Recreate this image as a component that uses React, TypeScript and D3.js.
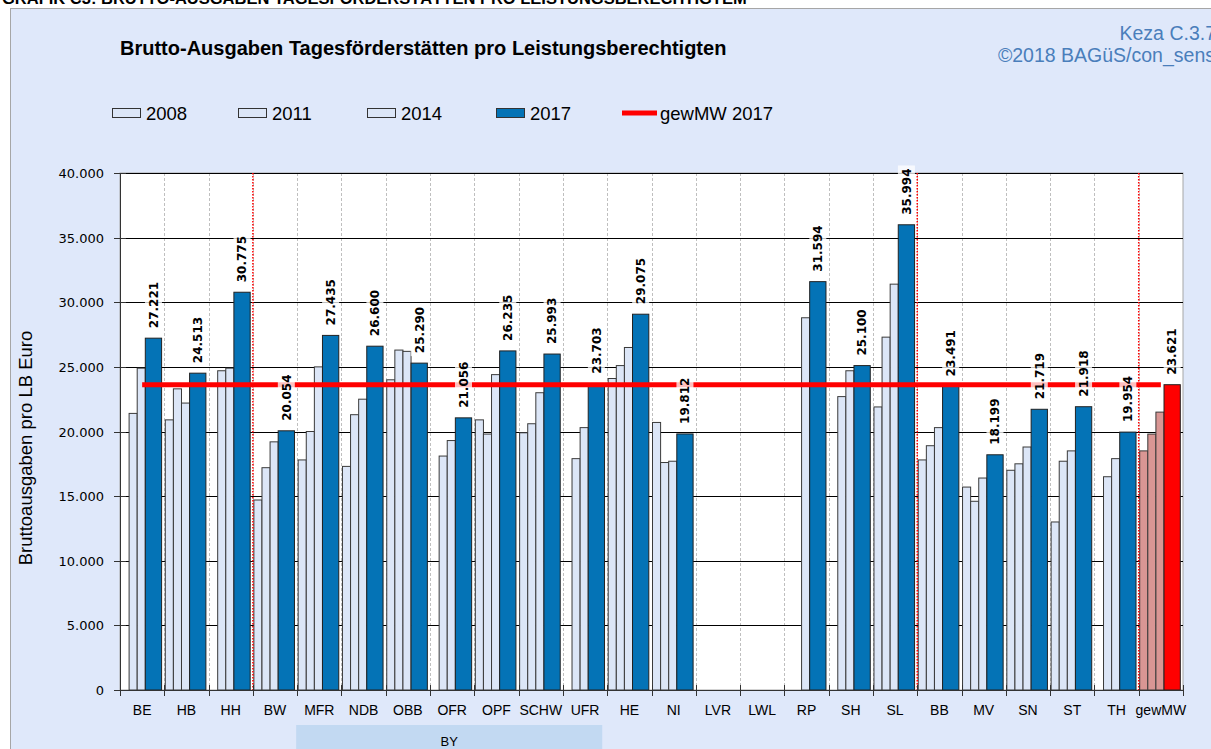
import * as d3 from 'd3';
import {useEffect, useRef} from "react";

// categories (Länder / Bezirke), gewMW = gewichteter Mittelwert
const categories = ["BE","HB","HH","BW","MFR","NDB","OBB","OFR","OPF","SCHW","UFR","HE","NI","LVR","LWL","RP","SH","SL","BB","MV","SN","ST","TH","gewMW"];

const years = ["2008","2011","2014"];
const values2008 = [null,20900,null,14700,17800,17300,24000,null,20900,19900,null,24100,20700,null,null,null,null,21900,17800,15700,17000,13000,null,18500];
const values2011 = [21400,23300,24700,17200,20000,21300,26300,18100,19800,20600,17900,25100,17600,null,null,null,22700,27300,18900,14600,17500,17700,16500,19800];
const values2014 = [24900,22200,24900,19200,25000,22500,26200,19300,24400,23000,20300,26500,17700,null,null,28800,24700,31400,20300,16400,18800,18500,17900,21500];
const values2017 = [27221,24513,30775,20054,27435,26600,25290,21056,26235,25993,23703,29075,19812,null,null,31594,25100,35994,23491,18199,21719,21918,19954,23621];

const gewMW2017 = 23621;
const yTicks = [0,5000,10000,15000,20000,25000,30000,35000,40000];
// red dotted separators after these categories
const separatorsAfter = ["HH","SL","TH"];
const byGroup = ["BW","MFR","NDB","OBB","OFR","OPF","SCHW","UFR"];

const legendItems = ["2008","2011","2014","2017"];

const width = 1211;
const height = 749;

const LIGHT = "#dce6f7";
const DARK = "#0473b6";
const ROSE = "#d99694";
const RED = "#ff0000";

export default function App(){
    const svgRef = useRef(null);

    useEffect(() => {
        const svg = d3.select(svgRef.current);
        svg.selectAll("*").remove();

        const de = d3.formatLocale({decimal: ",", thousands: ".", grouping: [3], currency: ["", "€"]});
        const fmt = de.format(",.0f");

        const x = d3.scaleBand().domain(categories).range([120, 1183]).padding(0);
        const y = d3.scaleLinear().domain([0, 40000]).range([690, 173]);
        const bw = x.bandwidth();
        const sub = d3.scaleBand().domain(years).range([1, 25.3]).padding(0);
        const darkOff = 25.3, darkW = 16.3;

        // page heading, cut at the top
        svg.append("text").attr("x", 2).attr("y", 4)
            .attr("font-family", "Liberation Sans, Arial").attr("font-weight", "bold").attr("font-size", 16.5)
            .attr("fill", "#000")
            .text("GRAFIK C3: BRUTTO-AUSGABEN TAGESFÖRDERSTÄTTEN PRO LEISTUNGSBERECHTIGTEM");

        // chart frame
        svg.append("rect").attr("x", 10.5).attr("y", 8.5).attr("width", 1220).attr("height", 760)
            .attr("fill", "#dfe8fa").attr("stroke", "#a6a6a6");

        svg.append("text").attr("x", 120).attr("y", 55)
            .attr("font-family", "Liberation Sans, Arial").attr("font-weight", "bold").attr("font-size", 20)
            .text("Brutto-Ausgaben Tagesförderstätten pro Leistungsberechtigten");

        const src = svg.append("g").attr("font-family", "Liberation Sans, Arial").attr("font-size", 19.5)
            .attr("fill", "#4a7ebb").attr("text-anchor", "end");
        src.append("text").attr("x", 1216).attr("y", 40).text("Keza C.3.7");
        src.append("text").attr("x", 1215).attr("y", 62).text("©2018 BAGüS/con_sens");

        // legend
        const lg = svg.append("g").attr("font-family", "Liberation Sans, Arial").attr("font-size", 18.5);
        const legendX = [112, 238, 367, 496];
        legendItems.forEach((k, i) => {
            lg.append("rect").attr("x", legendX[i] + 0.5).attr("y", 108.5).attr("width", 28).attr("height", 9)
                .attr("fill", k === "2017" ? DARK : LIGHT).attr("stroke", "#333");
            lg.append("text").attr("x", legendX[i] + 34).attr("y", 120).text(k);
        });
        lg.append("line").attr("x1", 622).attr("x2", 657).attr("y1", 113).attr("y2", 113)
            .attr("stroke", RED).attr("stroke-width", 5);
        lg.append("text").attr("x", 660).attr("y", 120).text("gewMW 2017");

        // plot area
        svg.append("rect").attr("x", 120).attr("y", 173).attr("width", 1063).attr("height", 517)
            .attr("fill", "#fff").attr("stroke", "#a6a6a6");

        // vertical dashed grid at band boundaries
        svg.append("g").selectAll("line")
            .data(categories.slice(1))
            .enter().append("line")
            .attr("x1", d => Math.round(x(d)) + 0.5).attr("x2", d => Math.round(x(d)) + 0.5)
            .attr("y1", 173).attr("y2", 690)
            .attr("stroke", "#bfbfbf").attr("stroke-dasharray", "3,2");

        // horizontal grid
        svg.append("g").selectAll("line")
            .data(yTicks.slice(1))
            .enter().append("line")
            .attr("x1", 120).attr("x2", 1183)
            .attr("y1", d => Math.round(y(d)) + 0.5).attr("y2", d => Math.round(y(d)) + 0.5)
            .attr("stroke", "#000").attr("stroke-width", 1);

        // bars
        const lightSeries = [values2008, values2011, values2014];
        const bars = svg.append("g");
        lightSeries.forEach((vals, si) => {
            bars.selectAll(null)
                .data(categories.map((c, i) => ({c, v: vals[i]})).filter(d => d.v != null))
                .enter().append("rect")
                .attr("x", d => x(d.c) + sub(years[si]))
                .attr("y", d => y(d.v))
                .attr("width", sub.bandwidth())
                .attr("height", d => 690 - y(d.v))
                .attr("fill", d => d.c === "gewMW" ? ROSE : LIGHT)
                .attr("stroke", "#3a3a3a").attr("stroke-width", 1);
        });
        const darkData = categories.map((c, i) => ({c, v: values2017[i]})).filter(d => d.v != null);
        bars.selectAll(null)
            .data(darkData)
            .enter().append("rect")
            .attr("x", d => x(d.c) + darkOff)
            .attr("y", d => y(d.v))
            .attr("width", darkW)
            .attr("height", d => 690 - y(d.v))
            .attr("fill", d => d.c === "gewMW" ? RED : DARK)
            .attr("stroke", "#222").attr("stroke-width", 1);

        // red dotted separators
        svg.append("g").selectAll("line")
            .data(separatorsAfter)
            .enter().append("line")
            .attr("x1", d => x(d) + bw).attr("x2", d => x(d) + bw)
            .attr("y1", 173).attr("y2", 690)
            .attr("stroke", RED).attr("stroke-width", 1.5).attr("stroke-dasharray", "1.5,1.5");

        // gewMW 2017 line
        svg.append("line")
            .attr("x1", x(categories[0]) + bw / 2).attr("x2", x(categories[categories.length - 1]) + bw / 2)
            .attr("y1", y(gewMW2017)).attr("y2", y(gewMW2017))
            .attr("stroke", RED).attr("stroke-width", 5);

        // axes
        const axes = svg.append("g").attr("stroke", "#333");
        axes.append("line").attr("x1", 120.5).attr("x2", 120.5).attr("y1", 173).attr("y2", 691);
        axes.append("line").attr("x1", 114).attr("x2", 1183).attr("y1", 690.5).attr("y2", 690.5);
        axes.selectAll(null).data(yTicks).enter().append("line")
            .attr("x1", 114).attr("x2", 126)
            .attr("y1", d => Math.round(y(d)) + 0.5).attr("y2", d => Math.round(y(d)) + 0.5);
        axes.selectAll(null).data(categories.concat(["__end"])).enter().append("line")
            .attr("x1", (d, i) => Math.round(120 + i * bw) + 0.5).attr("x2", (d, i) => Math.round(120 + i * bw) + 0.5)
            .attr("y1", 685).attr("y2", 696);

        svg.append("g").attr("font-family", "DejaVu Sans, Verdana").attr("font-size", 13)
            .attr("text-anchor", "end")
            .selectAll("text").data(yTicks).enter().append("text")
            .attr("x", 104).attr("y", d => y(d) + 5)
            .text(d => d === 0 ? "0" : fmt(d));

        svg.append("g").attr("font-family", "Liberation Sans, Arial").attr("font-size", 14)
            .attr("text-anchor", "middle")
            .selectAll("text").data(categories).enter().append("text")
            .attr("x", d => x(d) + bw / 2).attr("y", 715)
            .text(d => d);

        // BY group box
        const byX0 = x(byGroup[0]) + bw, byX1 = x(byGroup[byGroup.length - 1]) + bw;
        svg.append("rect").attr("x", byX0 - 1).attr("y", 725).attr("width", byX1 - byX0 - 4).attr("height", 30)
            .attr("fill", "#c2d9f2");
        svg.append("text").attr("x", (byX0 + byX1) / 2 - 3).attr("y", 746)
            .attr("text-anchor", "middle").attr("font-family", "Liberation Sans, Arial").attr("font-size", 13)
            .text("BY");

        svg.append("text")
            .attr("transform", "translate(32,448) rotate(-90)")
            .attr("text-anchor", "middle")
            .attr("font-family", "Liberation Sans, Arial").attr("font-size", 18.5)
            .text("Bruttoausgaben pro LB Euro");

        // value labels for 2017
        const labels = svg.append("g").attr("font-family", "DejaVu Sans, Verdana")
            .attr("font-size", 12).attr("font-weight", "bold");
        darkData.forEach(d => {
            const cx = x(d.c) + darkOff + darkW / 2;
            const top = y(d.v) - 7;
            const g = labels.append("g").attr("transform", `translate(${cx},${top}) rotate(-90)`);
            const t = g.append("text").attr("x", 3).attr("y", 0).attr("dy", "0.36em").text(fmt(d.v));
            const len = (t.node() as SVGTextElement).getComputedTextLength();
            g.insert("rect", "text").attr("x", 0).attr("y", -8.5).attr("width", len + 6).attr("height", 17)
                .attr("fill", "#fff").attr("fill-opacity", 0.75);
        });

        return () => {};
    }, []);

    return (
        <svg ref={svgRef} width={width} height={height} viewBox={`0 0 ${width} ${height}`}
             style={{position: "absolute", left: 0, top: 0, background: "#fff"}}></svg>
    );
}
